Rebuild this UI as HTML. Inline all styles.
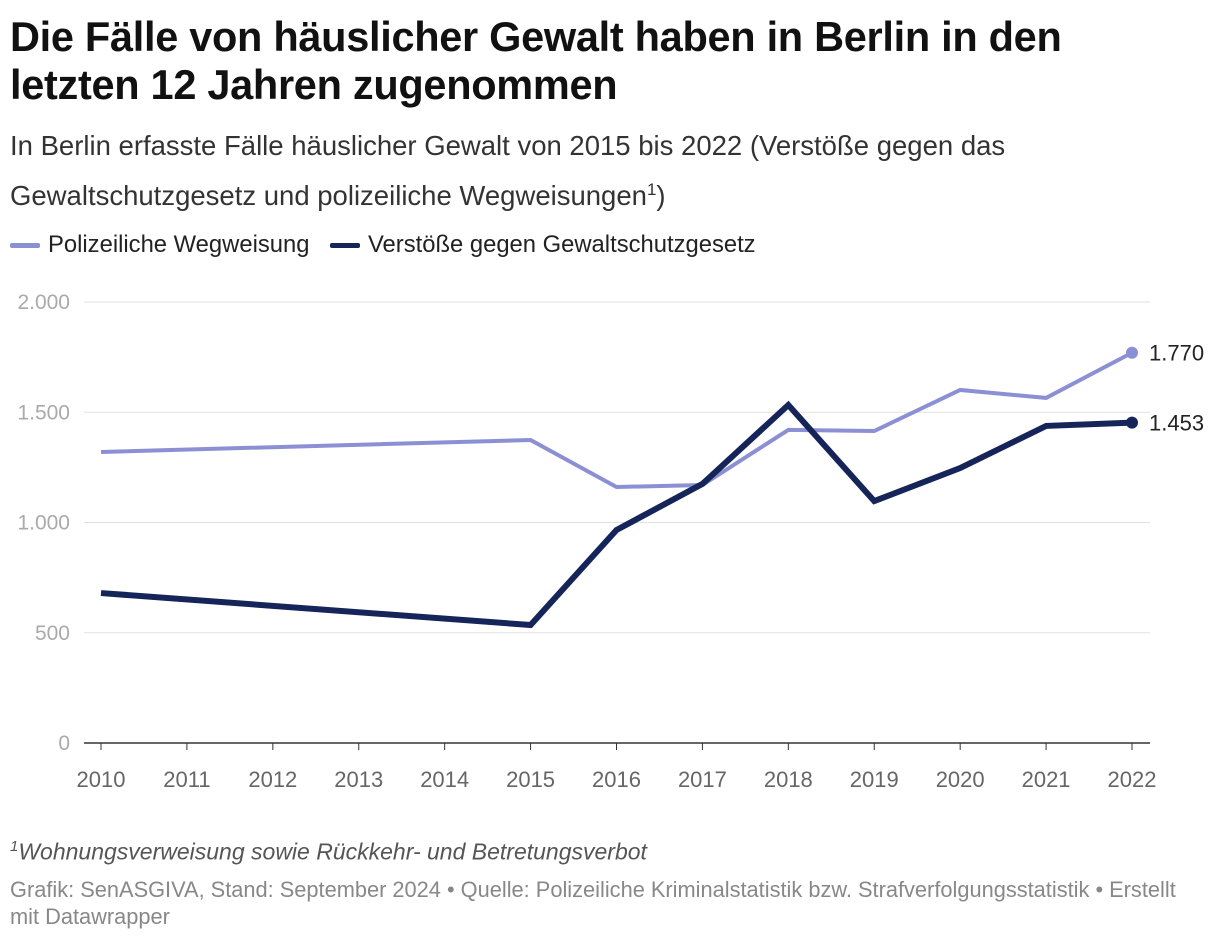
<!DOCTYPE html>
<html><head><meta charset="utf-8">
<style>
body{margin:0;background:#fff;width:1220px;height:940px;overflow:hidden;font-family:"Liberation Sans",sans-serif;}
h1{position:absolute;left:10px;top:13px;margin:0;font-size:41.5px;line-height:48px;font-weight:bold;color:#111;width:1210px;letter-spacing:-0.3px;white-space:nowrap}
.sub{position:absolute;left:10px;top:124px;font-size:27.5px;line-height:44px;color:#333;width:1210px;white-space:nowrap}
.leg{position:absolute;top:231px;font-size:23.8px;color:#222;display:flex;align-items:center;white-space:nowrap}
.leg i{display:inline-block;width:30px;height:5px;margin-right:8px;border-radius:2px}
.note{position:absolute;left:10px;top:838px;font-size:23px;font-style:italic;color:#555;white-space:nowrap}
.src{position:absolute;left:10px;top:876px;font-size:21.8px;line-height:27px;color:#888;width:1210px;white-space:nowrap}
</style></head><body>
<h1>Die Fälle von häuslicher Gewalt haben in Berlin in den<br>letzten 12 Jahren zugenommen</h1>
<div class="sub">In Berlin erfasste Fälle häuslicher Gewalt von 2015 bis 2022 (Verstöße gegen das<br>Gewaltschutzgesetz und polizeiliche Wegweisungen<sup style="font-size:17px">1</sup>)</div>
<div class="leg" style="left:10px"><i style="background:#8b8fd4"></i>Polizeiliche Wegweisung</div>
<div class="leg" style="left:330px"><i style="background:#15255a"></i>Verstöße gegen Gewaltschutzgesetz</div>
<svg id="chart" width="1220" height="940" style="position:absolute;left:0;top:0"></svg>
<div class="note"><sup style="font-size:15px">1</sup>Wohnungsverweisung sowie Rückkehr- und Betretungsverbot</div>
<div class="src">Grafik: SenASGIVA, Stand: September 2024 • Quelle: Polizeiliche Kriminalstatistik bzw. Strafverfolgungsstatistik • Erstellt<br>mit Datawrapper</div>
<script>
const years=[2010,2015,2016,2017,2018,2019,2020,2021,2022];
const wegweisung=[1320,1374,1161,1170,1420,1415,1601,1565,1770];
const verstoesse=[680,535,966,1175,1533,1097,1247,1438,1453];
const yTicks=[0,500,1000,1500,2000];
const yTickLabels=["0","500","1.000","1.500","2.000"];
const xTicks=[2010,2011,2012,2013,2014,2015,2016,2017,2018,2019,2020,2021,2022];
const endLabels=["1.770","1.453"];
const svg=document.getElementById('chart');
const NS='http://www.w3.org/2000/svg';
const x=v=>101+(v-2010)*(1132-101)/12;
const y=v=>743-v*(743-302)/2000;
function mk(t,a){const e=document.createElementNS(NS,t);for(const k in a)e.setAttribute(k,a[k]);svg.appendChild(e);return e;}
yTicks.forEach((t,i)=>{
 if(t>0){const g=mk('line',{x1:84,x2:1150,y1:y(t),y2:y(t),stroke:'#e2e2e2','stroke-width':1});
 
 }
 const l=mk('text',{x:70,y:y(t)+7,'text-anchor':'end','font-size':21,fill:'#aaa','font-family':'Liberation Sans'});
 l.textContent=yTickLabels[i];
 
 
});
const base=mk('line',{x1:84,x2:1150,y1:743,y2:743,stroke:'#333','stroke-width':1.5});


xTicks.forEach(t=>{
 const k=mk('line',{x1:x(t),x2:x(t),y1:743,y2:750,stroke:'#333','stroke-width':1});
 
 
 const l=mk('text',{x:x(t),y:787,'text-anchor':'middle','font-size':22,fill:'#666','font-family':'Liberation Sans'});
 l.textContent=t;
 
 
});
function series(vals,color,w,name,lab){
 const p=mk('polyline',{points:years.map((yr,i)=>x(yr)+','+y(vals[i])).join(' '),fill:'none',stroke:color,'stroke-width':w,'stroke-linejoin':'miter'});
 
 
 const last=vals.length-1;
 const c=mk('circle',{cx:x(years[last]),cy:y(vals[last]),r:6,fill:color});
 
 
 const t=mk('text',{x:x(years[last])+17,y:y(vals[last])+8,'font-size':22,fill:'#222','font-family':'Liberation Sans'});
 t.textContent=lab;
 
 
}
series(wegweisung,'#8b8fd4',4,'wegweisung',endLabels[0]);
series(verstoesse,'#15255a',6,'verstoesse',endLabels[1]);
</script>
</body></html>
